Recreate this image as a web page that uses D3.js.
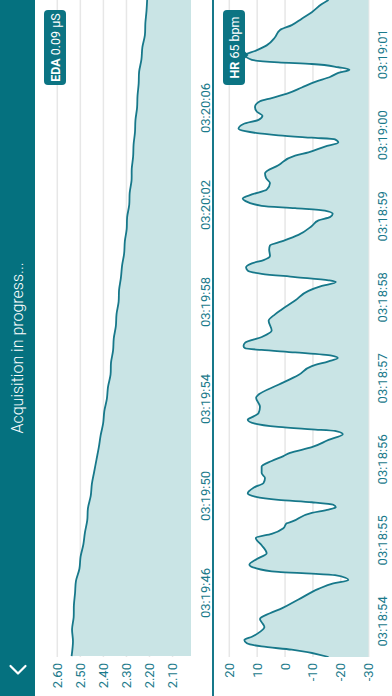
<!DOCTYPE html>
<html><head><meta charset="utf-8">
<script src="https://cdn.jsdelivr.net/npm/d3@7"></script>
<style>html,body{margin:0;padding:0;background:#fff;overflow:hidden}svg{display:block}</style>
</head><body>
<script>
// ---- DATA ----
// EDA: seconds after 03:19:00, value in µS
const edaTimes = [43.4,44.0,44.5,45.0,45.5,46.0,46.5,47.0,47.5,48.0,48.5,49.0,49.5,50.0,50.5,51.0,51.5,52.0,52.5,53.0,53.5,54.0,54.5,55.0,55.5,56.0,56.5,57.0,57.5,58.0,58.5,59.0,59.5,60.0,60.5,61.0,61.5,62.0,62.5,63.0,63.5,64.0,64.5,65.0,65.5,66.0,66.5,67.0,67.5,68.0,68.5,69.0,69.5,70.0,70.5];
const edaValues = [2.538,2.532,2.536,2.529,2.528,2.523,2.519,2.504,2.499,2.487,2.480,2.470,2.467,2.455,2.450,2.440,2.430,2.420,2.412,2.401,2.396,2.385,2.380,2.369,2.367,2.358,2.355,2.346,2.343,2.334,2.332,2.324,2.319,2.310,2.307,2.299,2.297,2.288,2.286,2.278,2.277,2.271,2.269,2.263,2.261,2.254,2.252,2.247,2.245,2.235,2.231,2.220,2.218,2.213,2.210];
// HR: seconds after 03:18:00, value
const hrTimes = [53.56,53.65,53.69,53.73,53.77,53.81,53.87,53.93,53.99,54.03,54.10,54.16,54.27,54.40,54.47,54.51,54.57,54.59,54.61,54.66,54.70,54.77,54.84,54.94,55.03,55.08,55.15,55.21,55.23,55.34,55.38,55.41,55.44,55.47,55.50,55.54,55.58,55.65,55.71,55.77,55.83,55.91,55.98,56.04,56.08,56.15,56.24,56.31,56.35,56.37,56.40,56.44,56.49,56.53,56.57,56.65,56.76,56.80,56.92,57.04,57.15,57.21,57.25,57.28,57.32,57.35,57.37,57.40,57.44,57.51,57.59,57.71,57.79,57.85,57.96,58.08,58.14,58.19,58.21,58.25,58.29,58.33,58.37,58.42,58.46,58.51,58.59,58.64,58.69,58.77,58.88,58.95,58.99,59.03,59.07,59.10,59.13,59.19,59.22,59.27,59.33,59.41,59.47,59.53,59.63,59.75,59.79,59.86,59.91,59.95,59.97,60.00,60.05,60.08,60.14,60.19,60.24,60.29,60.35,60.42,60.46,60.52,60.59,60.66,60.72,60.77,60.81,60.84,60.88,60.90,60.93,60.99,61.04,61.11,61.21,61.30,61.36,61.44,61.52,61.62,61.67];
const hrValues = [-15.6,-2.4,8.4,13.7,14.6,11.9,9.0,7.4,8.4,9.0,5.4,1.2,-4.8,-12.0,-17.3,-22.7,-17.9,-9.6,2.4,10.8,12.8,10.1,6.6,8.4,10.5,4.8,0.6,-0.6,-2.4,-9.6,-15.6,-18.2,-17.3,-9.6,2.4,10.8,13.4,11.3,7.7,7.2,8.4,8.4,4.8,0.6,-1.8,-9.6,-15.6,-20.7,-17.9,-9.6,2.4,10.8,13.4,11.3,9.5,9.0,10.4,9.5,2.4,-4.8,-9.6,-15.6,-18.9,-16.7,-3.6,8.4,14.3,14.9,14.3,8.4,4.8,5.9,3.6,1.2,-3.6,-8.4,-13.2,-18.2,-15.6,-3.6,8.4,13.4,14.0,11.9,7.7,5.4,5.7,5.4,1.2,-4.8,-9.6,-12.0,-16.1,-17.1,-14.3,-3.6,8.4,14.3,15.2,11.9,6.6,5.4,6.8,7.2,2.4,-3.6,-8.4,-14.3,-19.1,-17.9,-9.6,2.4,14.3,16.7,14.9,9.5,8.1,10.1,10.8,9.0,4.8,-1.2,-6.0,-10.8,-16.1,-19.1,-23.1,-19.1,-9.6,2.4,11.9,14.3,10.8,6.6,3.6,1.8,-2.4,-6.0,-9.6,-13.2,-15.6];

const edaTicks = [2.10,2.20,2.30,2.40,2.50,2.60];
const hrTicks = [-30,-20,-10,0,10,20];
const edaTimeTicks = ["03:19:46","03:19:50","03:19:54","03:19:58","03:20:02","03:20:06"];
const hrTimeTicks = ["03:18:54","03:18:55","03:18:56","03:18:57","03:18:58","03:18:59","03:19:00","03:19:01"];
const edaWindow = ["03:19:43.36","03:20:10.45"];
const hrWindow = ["03:18:53.56","03:19:01.67"];
const title = "Acquisition in progress...";
const edaBadge = ["EDA"," 0.09 µS"];
const hrBadge = ["HR"," 65 bpm"];

// ---- HELPERS ----
const toSec = s => { const p = s.split(":").map(Number); return p[0]*3600+p[1]*60+p[2]; };
const edaBase = toSec("03:19:00"), hrBase = toSec("03:18:00");

const TEAL = "#05717f", LINE = "#17788a", FILL = "#c9e4e5", TXT = "#1b7a8b", GRID = "#e7e7e7";
const W = 696, H = 392;
const FONT = "Roboto, 'Noto Sans', sans-serif";

const svg = d3.select("body").append("svg").attr("width", 392).attr("height", 696);
svg.append("rect").attr("width",392).attr("height",696).attr("fill","#fff");
const g = svg.append("g").attr("transform", "translate(0,696) rotate(-90)").style("font-family", FONT);

// header
g.append("rect").attr("x",0).attr("y",0).attr("width",W).attr("height",35).attr("fill",TEAL);
g.append("path").attr("d","M30,10.5 L22.5,18 L30,25.5").attr("fill","none").attr("stroke","#fff").attr("stroke-width",2.2).attr("stroke-linecap","round").attr("stroke-linejoin","round");
g.append("text").attr("x",W/2).attr("y",23).attr("text-anchor","middle").attr("fill","#fff")
  .attr("font-size",16).attr("font-weight",300).text(title);

const x0 = 39, x1 = W;

function drawChart(opts){
  const {times, values, base, win, yDomain, yRange, ticks, fmt, timeTicks, timeY, curve} = opts;
  const x = d3.scaleLinear().domain(win.map(toSec)).range([x0, x1]);
  const y = d3.scaleLinear().domain(yDomain).range(yRange);
  const bottom = yRange[0];
  // grid
  g.append("g").selectAll("line").data(ticks).join("line")
    .attr("x1", x0).attr("x2", x1).attr("y1", d=>y(d)).attr("y2", d=>y(d))
    .attr("stroke", GRID).attr("stroke-width", 1.5);
  const data = times.map((t,i)=>({t: base + t, v: values[i]}));
  const area = d3.area().x(d=>x(d.t)).y0(bottom).y1(d=>y(d.v)).curve(curve);
  const line = d3.line().x(d=>x(d.t)).y(d=>y(d.v)).curve(curve);
  const clipId = "c" + Math.round(bottom);
  g.append("clipPath").attr("id", clipId).append("rect").attr("x", x0).attr("y", 0).attr("width", x1-x0).attr("height", bottom);
  g.append("path").datum(data).attr("d", area).attr("fill", FILL).attr("clip-path", `url(#${clipId})`);
  g.append("path").datum(data).attr("d", line).attr("fill","none").attr("stroke", LINE).attr("stroke-width", 1.8).attr("clip-path", `url(#${clipId})`);
  // y labels
  g.append("g").selectAll("text").data(ticks).join("text")
    .attr("x", 33).attr("y", d=>y(d)).attr("dy","0.35em").attr("text-anchor","end")
    .attr("fill", TXT).attr("font-size", 13).text(fmt);
  // time labels
  g.append("g").selectAll("text").data(timeTicks).join("text")
    .attr("x", d=>x(toSec(d))).attr("y", timeY).attr("text-anchor","middle")
    .attr("fill", TXT).attr("font-size", 13).text(d=>d);
  return {x, y};
}

drawChart({times: edaTimes, values: edaValues, base: edaBase, win: edaWindow,
  yDomain: [2.02, 2.6], yRange: [191, 57.3], ticks: edaTicks, fmt: d=>d.toFixed(2),
  timeTicks: edaTimeTicks, timeY: 210, curve: d3.curveCatmullRom});

// separator line
g.append("line").attr("x1",0).attr("x2",W).attr("y1",213).attr("y2",213).attr("stroke",LINE).attr("stroke-width",2);

drawChart({times: hrTimes, values: hrValues, base: hrBase, win: hrWindow,
  yDomain: [-30, 20], yRange: [368.7, 229.3], ticks: hrTicks, fmt: d=>String(d),
  timeTicks: hrTimeTicks, timeY: 387, curve: d3.curveMonotoneX});

// badges
function badge(yTop, parts, pointer){
  const bx = 611, bw = 75, bh = 22;
  const bg = g.append("g");
  bg.append("rect").attr("x",bx).attr("y",yTop).attr("width",bw).attr("height",bh).attr("rx",4).attr("fill","#0c7483");
  if (pointer) bg.append("path").attr("d",`M${pointer-4},${yTop+bh-0.5} L${pointer+4},${yTop+bh-0.5} L${pointer},${yTop+bh+3.5}Z`).attr("fill","#0c7483");
  const t = bg.append("text").attr("x", bx+bw/2).attr("y", yTop+15.5).attr("text-anchor","middle").attr("fill","#fff").attr("font-size",12.5);
  t.append("tspan").attr("font-weight",700).text(parts[0]);
  t.append("tspan").text(parts[1]);
}
badge(44, edaBadge, null);
badge(223, hrBadge, 641);
</script>
</body></html>
